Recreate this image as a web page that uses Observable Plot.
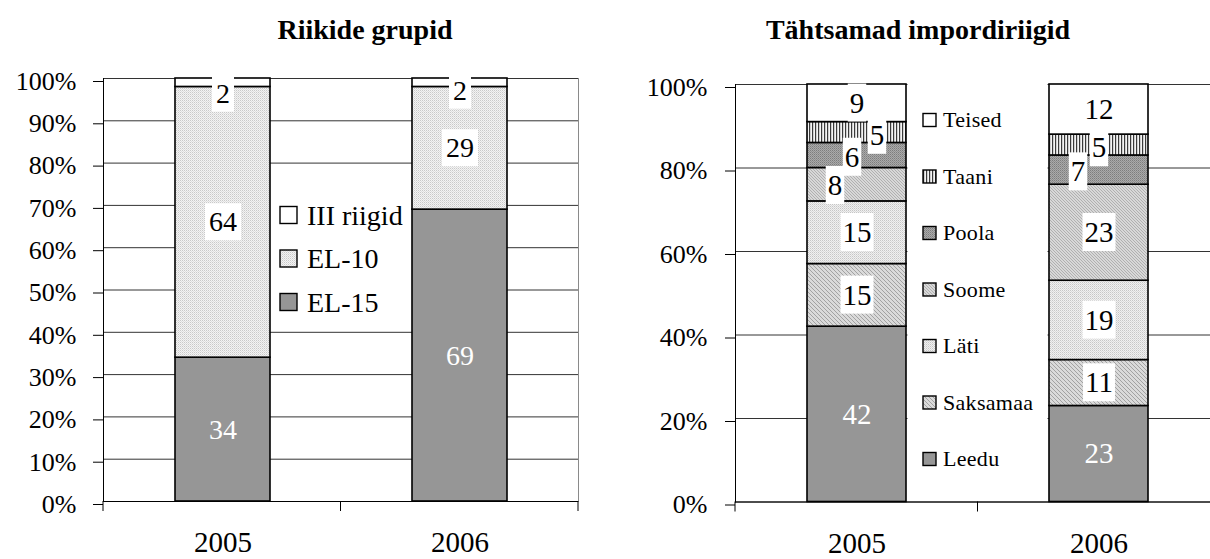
<!DOCTYPE html>
<html>
<head>
<meta charset="utf-8">
<script src="https://cdn.jsdelivr.net/npm/d3@7"></script>
<script src="https://cdn.jsdelivr.net/npm/@observablehq/plot@0.6"></script>
<style>
  html, body { margin: 0; padding: 0; background: #fff; }
  #wrap { position: relative; width: 1210px; height: 559px; overflow: hidden;
          font-family: "Liberation Serif", "Times New Roman", serif; color: #000; }
  .title { position: absolute; top: 14px; width: 420px; text-align: center;
           font-weight: bold; font-size: 28px; line-height: 32px; }
  .panel { position: absolute; top: 0; width: 600px; height: 559px; }
  .panel svg { overflow: visible; max-width: none !important; display: block; }
</style>
</head>
<body>
<svg width="0" height="0" style="position:absolute">
  <defs>
    <pattern id="p-light" width="2" height="2" patternUnits="userSpaceOnUse">
      <rect width="2" height="2" fill="#f3f3f3"/>
      <rect width="1" height="1" fill="#c9c9c9"/>
      <rect x="1" y="1" width="1" height="1" fill="#dedede"/>
    </pattern>
    <pattern id="p-lati" width="2" height="2" patternUnits="userSpaceOnUse">
      <rect width="2" height="2" fill="#f0f0f0"/>
      <rect width="1" height="1" fill="#c6c6c6"/>
      <rect x="1" y="1" width="1" height="1" fill="#dadada"/>
    </pattern>
    <pattern id="p-hatchA" width="4" height="4" patternUnits="userSpaceOnUse">
      <rect width="4" height="4" fill="#dadada"/>
      <path d="M0,0 L4,4 M-1,3 L1,5 M3,-1 L5,1" stroke="#a2a2a2" stroke-width="1"/>
    </pattern>
    <pattern id="p-hatchB" width="3" height="3" patternUnits="userSpaceOnUse">
      <rect width="3" height="3" fill="#d8d8d8"/>
      <path d="M0,0 L3,3 M-1,2 L1,4 M2,-1 L4,1" stroke="#ababab" stroke-width="0.9"/>
    </pattern>
    <pattern id="p-dark" width="2" height="2" patternUnits="userSpaceOnUse">
      <rect width="2" height="2" fill="#aaaaaa"/>
      <rect width="1" height="1" fill="#7d7d7d"/>
      <rect x="1" y="1" width="1" height="1" fill="#909090"/>
    </pattern>
    <pattern id="p-vert" width="3" height="3" patternUnits="userSpaceOnUse">
      <rect width="3" height="3" fill="#f4f4f4"/>
      <rect x="0" width="1.2" height="3" fill="#3a3a3a"/>
    </pattern>
  </defs>
</svg>

<div id="wrap">
  <div class="title" style="left:155px">Riikide grupid</div>
  <div class="title" style="left:708px">Tähtsamad impordiriigid</div>
  <div class="panel" id="left" style="left:0px"></div>
  <div class="panel" id="right" style="left:620px"></div>
</div>

<script>
// ---------------- DATA ----------------
const years = ["2005", "2006"];

// Left panel: country groups (bottom to top)
const groupSeries = ["EL-15", "EL-10", "III riigid"];
const el15 = [34, 69];
const el10 = [64, 29];
const kolmandad = [2, 2];
const leftTicks = [0, 10, 20, 30, 40, 50, 60, 70, 80, 90, 100];

// Right panel: main import countries (bottom to top)
const countrySeries = ["Leedu", "Saksamaa", "Läti", "Soome", "Poola", "Taani", "Teised"];
const leedu = [42, 23];
const saksamaa = [15, 11];
const lati = [15, 19];
const soome = [8, 23];
const poola = [6, 7];
const taani = [5, 5];
const teised = [9, 12];
const rightTicks = [0, 20, 40, 60, 80, 100];

// ---------------- STYLE ----------------
const FONT = '"Liberation Serif", "Times New Roman", serif';
const leftFills = ["#969696", "url(#p-light)", "#ffffff"];
const rightFills = ["#969696", "url(#p-hatchA)", "url(#p-lati)", "url(#p-hatchB)", "url(#p-dark)", "url(#p-vert)", "#ffffff"];
const LABEL_DARK = "#010101";   // black labels (get a white box)
const LABEL_LIGHT = "#ffffff";  // white labels on the dark bottom segment
// pixel nudges of some data labels (as in the original, to avoid overlaps)
const labelNudge = {
  "2005|III riigid": [0, 11], "2006|III riigid": [0, 8],
  "2005|Taani": [20, 3], "2005|Poola": [-5, 2], "2005|Soome": [-22, 1],
  "2006|Taani": [0, 3], "2006|Poola": [-21, 2]
};

function buildRows(seriesNames, arrays) {
  const rows = [];
  years.forEach((yr, i) => {
    let cum = 0;
    seriesNames.forEach((s, j) => {
      const v = arrays[j][i];
      rows.push({year: yr, series: s, value: v, mid: cum + v / 2, bottom: j === 0});
      cum += v;
    });
  });
  return rows;
}

const leftRows = buildRows(groupSeries, [el15, el10, kolmandad]);
const rightRows = buildRows(countrySeries, [leedu, saksamaa, lati, soome, poola, taani, teised]);

function labelMarks(rows, fontSize) {
  return rows.map(r => {
    const n = labelNudge[r.year + "|" + r.series] || [0, 0];
    return Plot.text([r], {
      x: "year", y: "mid", text: d => String(d.value),
      dx: n[0], dy: n[1],
      fill: r.bottom ? LABEL_LIGHT : LABEL_DARK,
      fontSize, fontFamily: FONT
    });
  });
}

function makePanel(cfg) {
  const plot = Plot.plot({
    width: cfg.width, height: 559,
    marginLeft: cfg.marginLeft, marginRight: cfg.marginRight,
    marginTop: cfg.marginTop, marginBottom: cfg.marginBottom,
    style: {fontFamily: FONT, fontSize: "26px", color: "#000", background: "transparent"},
    x: {domain: years, paddingInner: cfg.padIn, paddingOuter: cfg.padIn / 2, align: 0.5, label: null},
    y: {domain: [0, 100], label: null},
    color: {domain: cfg.series, range: cfg.fills},
    marks: [
      Plot.gridY(cfg.ticks, {stroke: "#333333", strokeOpacity: 1, strokeWidth: 1}),
      cfg.rightBorder ? Plot.frame({anchor: "right", stroke: "#8a8a8a"}) : null,
      Plot.barY(cfg.rows, Plot.stackY({x: "year", y: "value", fill: "series", stroke: "#000", strokeWidth: 1.6})),
      ...labelMarks(cfg.rows, cfg.labelSize),
      Plot.frame({anchor: "left", stroke: "#000"}),
      Plot.ruleY([0], {stroke: "#000"}),
      Plot.axisY(cfg.ticks, {tickSize: 10, tickPadding: cfg.tickPad, tickFormat: d => d + "%",
                             fontSize: 26, label: null, dy: 3}),
      Plot.axisX({tickSize: 0, tickPadding: 30, fontSize: 29, label: null})
    ]
  });
  document.getElementById(cfg.host).appendChild(plot);

  const svg = d3.select(plot);
  const xs = plot.scale("x");
  const ys = plot.scale("y");
  const y0 = ys.apply(0);
  const [r0, r1] = xs.range;

  // category boundary ticks below the x axis
  const nb = years.length;
  svg.append("g").selectAll("line").data(d3.range(nb + 1)).join("line")
    .attr("x1", k => r0 + k * (r1 - r0) / nb).attr("x2", k => r0 + k * (r1 - r0) / nb)
    .attr("y1", y0).attr("y2", y0 + 10).attr("stroke", "#000");

  // white boxes behind the black data labels
  svg.selectAll("text").each(function () {
    const g = this.parentNode;
    const f = (this.getAttribute("fill") || g.getAttribute("fill") || "").toLowerCase();
    if (f !== LABEL_DARK) return;
    const b = this.getBBox();
    const px = cfg.boxPadX, py = 4;
    d3.select(g).insert("rect", () => this)
      .attr("transform", this.getAttribute("transform"))
      .attr("x", b.x - px).attr("y", b.y - py + 1)
      .attr("width", b.width + 2 * px).attr("height", b.height + 2 * py - 2)
      .attr("fill", "#fff");
  });

  // legend (inside the plot area, under the bars)
  const lg = svg.insert("g", '[aria-label="bar"]')
    .attr("font-family", FONT).attr("text-anchor", "start");
  const lb = cfg.legendBox(xs, ys);
  lg.append("rect").attr("x", lb.x).attr("y", lb.y).attr("width", lb.w).attr("height", lb.h).attr("fill", "#fff");
  const items = cfg.series.map((s, i) => ({s, fill: cfg.fills[i]})).reverse();
  items.forEach((it, k) => {
    const cy = cfg.legY0 + k * cfg.legStep;
    lg.append("rect").attr("x", cfg.legX).attr("y", cy - cfg.sw / 2)
      .attr("width", cfg.sw).attr("height", cfg.sw)
      .attr("fill", it.fill).attr("stroke", "#000").attr("stroke-width", 1.4);
    lg.append("text").attr("x", cfg.legX + cfg.sw + cfg.legGap).attr("y", cy)
      .attr("dy", "0.34em").attr("font-size", cfg.legSize).attr("fill", "#000")
      .attr("text-anchor", "start")
      .attr("letter-spacing", cfg.legSpacing).text(it.s);
  });
  return plot;
}

makePanel({
  host: "left", width: 600, marginLeft: 103, marginRight: 22, marginTop: 78, marginBottom: 58,
  padIn: 0.6, rows: leftRows, series: groupSeries, fills: leftFills, ticks: leftTicks,
  tickPad: 17, labelSize: 28, boxPadX: 4, rightBorder: true,
  legendBox: () => ({x: 270, y: 172, w: 142, h: 150}),
  legX: 280, legY0: 215, legStep: 43.5, sw: 17, legGap: 10, legSize: 28, legSpacing: 0
});

makePanel({
  host: "right", width: 600, marginLeft: 115, marginRight: 0, marginTop: 84, marginBottom: 57.5,
  padIn: 0.59, rows: rightRows, series: countrySeries, fills: rightFills, ticks: rightTicks,
  tickPad: 18, labelSize: 29, boxPadX: 2, rightBorder: false,
  legendBox: (xs, ys) => {
    const a = xs.apply(years[0]) + xs.bandwidth + 1.5, b = xs.apply(years[1]) - 1.5;
    return {x: a, y: ys.apply(100) - 1, w: b - a, h: ys.apply(0) - ys.apply(100) - 0.5};
  },
  legX: 303, legY0: 120, legStep: 56.5, sw: 13, legGap: 7, legSize: 22, legSpacing: 0.3
});
</script>
</body>
</html>
